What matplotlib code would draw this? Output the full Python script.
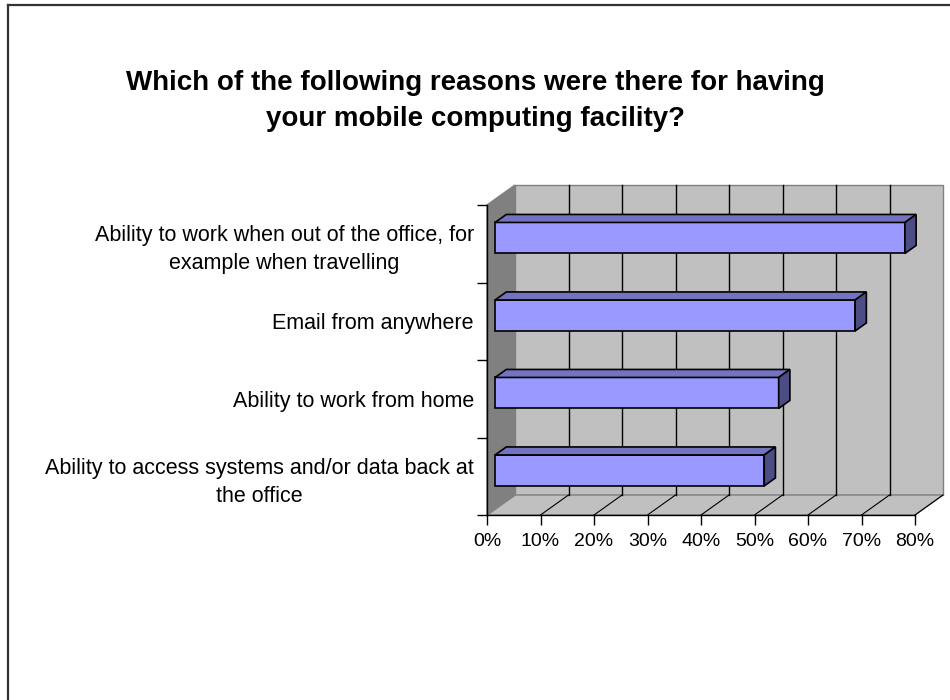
import matplotlib
matplotlib.use("Agg")
import matplotlib.pyplot as plt
from matplotlib.patches import Polygon, Rectangle
from matplotlib.lines import Line2D

plt.rcParams["font.family"] = ["Liberation Sans", "DejaVu Sans"]

# data, bottom category first
categories = [
    "Ability to access systems and/or data back at\nthe office",
    "Ability to work from home",
    "Email from anywhere",
    "Ability to work when out of the office, for\nexample when travelling",
]
values = [50.3, 53.0, 67.3, 76.6]
x_ticks = [0, 10, 20, 30, 40, 50, 60, 70, 80]
x_tick_labels = ["0%", "10%", "20%", "30%", "40%", "50%", "60%", "70%", "80%"]
title = "Which of the following reasons were there for having\nyour mobile computing facility?"

# fake 3d depth, in data units of the front plane
DX = 80 * 28 / 428
DY = 20 / 77.5
Z0, Z1 = 0.29, 0.69
BAR_H = 0.4

WALL = "#C0C0C0"
SIDE = "#808080"
EDGE = "#808080"
FRONT = "#9999FF"
TOP = "#7373C0"
RIGHT = "#4D4D85"


def depth(x, y, z):
    return (x + z * DX, y + z * DY)


fig = plt.figure(figsize=(9.5, 7), dpi=100)
ax = fig.add_axes([487 / 950, (700 - 515) / 700, 428 / 950, 310 / 700])
ax.set_xlim(0, 80)
ax.set_ylim(-0.5, len(categories) - 0.5)
ax.patch.set_visible(False)

y_lo, y_hi = -0.5, len(categories) - 0.5
x_max = x_ticks[-1]

# back wall
back = [depth(0, y_lo, 1), depth(x_max, y_lo, 1), depth(x_max, y_hi, 1), depth(0, y_hi, 1)]
ax.add_patch(Polygon(back, closed=True, facecolor=WALL, edgecolor=EDGE, lw=1, clip_on=False, zorder=0.5))
# floor
floor = [depth(0, y_lo, 0), depth(x_max, y_lo, 0), depth(x_max, y_lo, 1), depth(0, y_lo, 1)]
ax.add_patch(Polygon(floor, closed=True, facecolor=WALL, edgecolor=EDGE, lw=1, clip_on=False, zorder=0.6))
# side wall
side = [depth(0, y_lo, 0), depth(0, y_lo, 1), depth(0, y_hi, 1), depth(0, y_hi, 0)]
ax.add_patch(Polygon(side, closed=True, facecolor=SIDE, edgecolor=EDGE, lw=1, clip_on=False, zorder=0.7))

# gridlines on back wall and floor
for xt in x_ticks[1:-1]:
    bx0, by0 = depth(xt, y_lo, 1)
    bx1, by1 = depth(xt, y_hi, 1)
    ax.plot([bx0, bx1], [by0, by1], color="black", lw=1, clip_on=False, zorder=0.8)
for xt in x_ticks[1:]:
    fx0, fy0 = depth(xt, y_lo, 0)
    fx1, fy1 = depth(xt, y_lo, 1)
    ax.plot([fx0, fx1], [fy0, fy1], color="black", lw=0.8, clip_on=False, zorder=0.8)

# bars
for i, v in enumerate(values):
    y0, y1 = i - BAR_H / 2, i + BAR_H / 2
    fx, fy = depth(0, y0, Z0)
    ax.add_patch(Rectangle((fx, fy), v, BAR_H, facecolor=FRONT, edgecolor="black",
                           lw=1.2, clip_on=False, zorder=3))
    top = [depth(0, y1, Z0), depth(v, y1, Z0), depth(v, y1, Z1), depth(0, y1, Z1)]
    ax.add_patch(Polygon(top, closed=True, facecolor=TOP, edgecolor="black",
                         lw=1.2, clip_on=False, zorder=3))
    end = [depth(v, y0, Z0), depth(v, y0, Z1), depth(v, y1, Z1), depth(v, y1, Z0)]
    ax.add_patch(Polygon(end, closed=True, facecolor=RIGHT, edgecolor="black",
                         lw=1.2, clip_on=False, zorder=3))

# axes
for s in ["top", "right"]:
    ax.spines[s].set_visible(False)
for s in ["left", "bottom"]:
    ax.spines[s].set_linewidth(1)
    ax.spines[s].set_zorder(2.5)

ax.set_xticks(x_ticks)
ax.set_xticklabels(x_tick_labels, fontsize=14)
ax.tick_params(axis="x", direction="out", length=7, width=1, pad=6)

ax.set_yticks([k - 0.5 for k in range(len(categories) + 1)])
ax.set_yticklabels([])
ax.set_yticks(range(len(categories)), minor=True)
ax.set_yticklabels(categories, minor=True, fontsize=15.5)
ax.tick_params(axis="y", which="major", direction="out", length=7, width=1)
ax.tick_params(axis="y", which="minor", length=0, pad=9.5)
for lbl in ax.get_yticklabels(minor=True):
    lbl.set_multialignment("center")
    lbl.set_linespacing(1.45)

fig.text(0.5, 1 - 101 / 700, title, ha="center", va="center", fontsize=20,
         fontweight="bold", linespacing=1.45)

# chart frame
fig.add_artist(Line2D([8 / 950, 8 / 950], [0, 1 - 4.5 / 700], color="#333333", lw=1.6))
fig.add_artist(Line2D([8 / 950, 1], [1 - 4.5 / 700, 1 - 4.5 / 700], color="#333333", lw=1.6))

fig.savefig("out.png", dpi=100)
